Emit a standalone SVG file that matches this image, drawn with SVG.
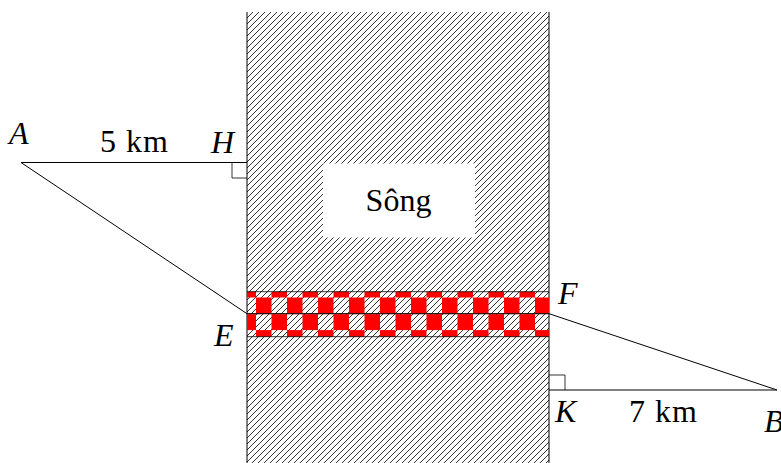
<svg xmlns="http://www.w3.org/2000/svg" width="781" height="463" viewBox="0 0 781 463">
<style>
text{font-family:'Liberation Serif','DejaVu Serif',serif;font-size:32px;fill:#000}
.it{font-style:italic}
.ln{stroke:#000;stroke-width:1;fill:none}
.thin{stroke:#000;stroke-width:0.8;fill:none}
</style>
<defs>
<pattern id="hatch" patternUnits="userSpaceOnUse" x="247" y="12" width="6" height="6">
<path d="M-1,1 L1,-1 M0,6 L6,0 M5,7 L7,5" stroke="#000" stroke-width="0.8"/>
</pattern>
<pattern id="checker" patternUnits="userSpaceOnUse" x="256" y="297.5" width="31" height="32.6">
<rect x="0" y="0" width="15.5" height="16.3" fill="#ff0000"/>
<rect x="15.5" y="16.3" width="15.5" height="16.3" fill="#ff0000"/>
</pattern>
</defs>
<g id="river">
<rect x="247" y="12" width="302" height="451" fill="url(#hatch)"/>
<line class="ln" x1="247" y1="12" x2="247" y2="463"/>
<line class="ln" x1="549" y1="12" x2="549" y2="463"/>
</g>
<g id="song">
<rect x="323" y="163.5" width="152" height="74" fill="#fff"/>
<text x="398.5" y="211" text-anchor="middle">Sông</text>
</g>
<g id="bridge">
<rect x="247" y="291.7" width="302" height="45" fill="url(#checker)"/>
<line class="thin" x1="247" y1="291.7" x2="549" y2="291.7"/>
<line class="ln" x1="247" y1="313.7" x2="549" y2="313.7"/>
<line class="thin" x1="247" y1="336.7" x2="549" y2="336.7"/>
</g>
<g id="connectors">
<line class="ln" x1="21" y1="162.5" x2="247" y2="162.5"/>
<line class="ln" x1="21" y1="162.5" x2="247" y2="313.7"/>
<line class="ln" x1="549" y1="313.7" x2="777" y2="390"/>
<line class="ln" x1="549" y1="390" x2="777" y2="390"/>
<polyline class="thin" points="232,162.5 232,178 247,178"/>
<polyline class="thin" points="549,375 565,375 565,390"/>
</g>
<g id="A"><text class="it" x="9" y="144">A</text></g>
<g id="dist-AH"><text x="100" y="152" letter-spacing="1">5 km</text></g>
<g id="H"><text class="it" x="211" y="153">H</text></g>
<g id="E"><text class="it" x="214" y="346">E</text></g>
<g id="F"><text class="it" x="558" y="304">F</text></g>
<g id="K"><text class="it" x="555" y="422">K</text></g>
<g id="dist-KB"><text x="629" y="422" letter-spacing="1">7 km</text></g>
<g id="B"><text class="it" x="764" y="432">B</text></g>
</svg>
